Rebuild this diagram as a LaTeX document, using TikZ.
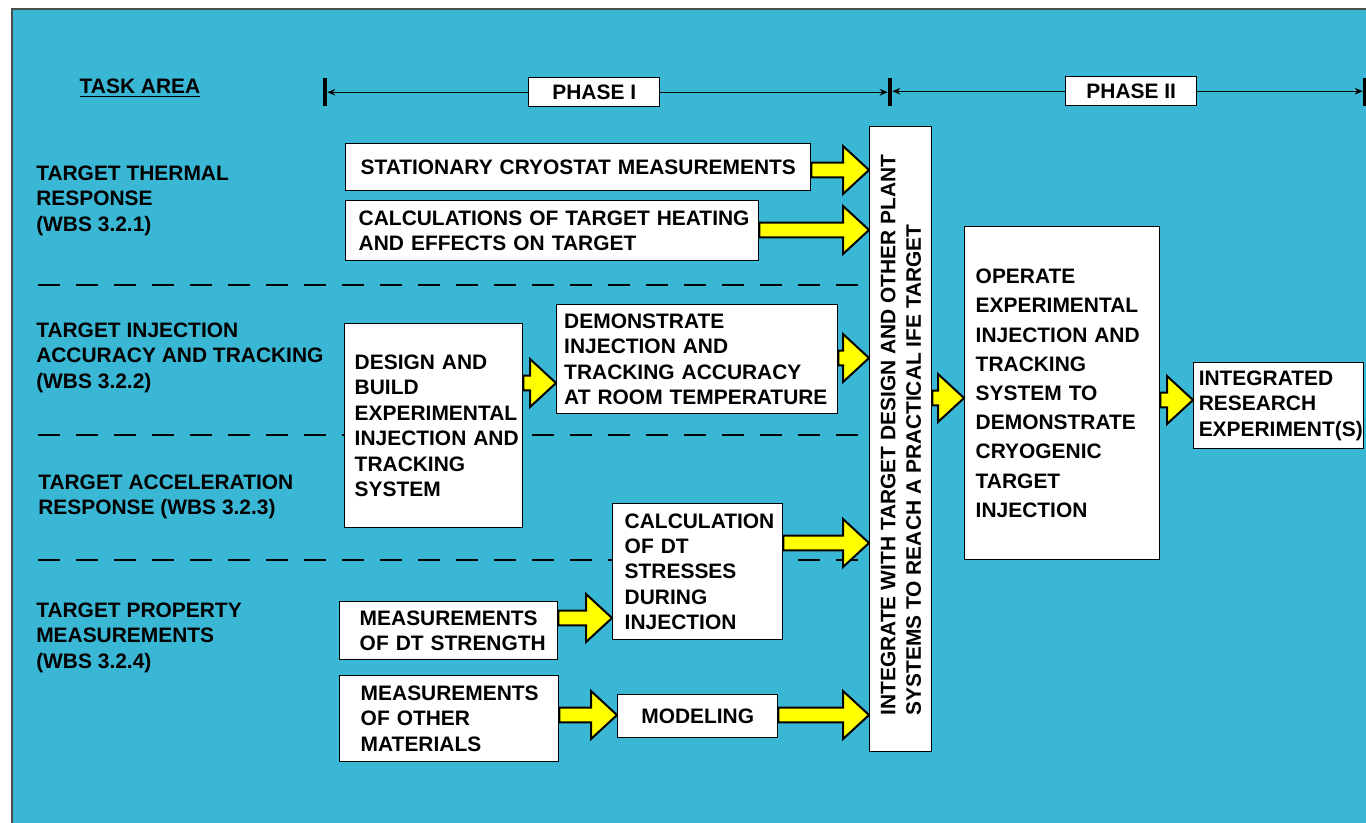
\documentclass[tikz,border=0pt]{standalone}
\usepackage{fontspec}
\setmainfont{Liberation Sans}
\usetikzlibrary{calc,arrows.meta}
\definecolor{bg}{RGB}{58,183,213}
\definecolor{yel}{RGB}{255,255,0}
\newcommand\yarr[3]{\draw[yarrow] let \p1=(#1), \p2=(#2), \p3=(0,#3) in
  (\x1,\y3+5.6pt) -- (\x2-19.5pt,\y3+5.6pt) -- (\x2-19.5pt,\y3+18pt) -- (\x2,\y3)
  -- (\x2-19.5pt,\y3-18pt) -- (\x2-19.5pt,\y3-5.6pt) -- (\x1,\y3-5.6pt) -- cycle;}
\newcommand\Lm[1]{\mbox{#1}}
\begin{document}
\begin{tikzpicture}[x=0.75pt,y=-0.75pt,
  font=\fontsize{15.7}{19.1}\selectfont\bfseries,
  box/.style={draw=black, line width=1.1pt, fill=white, anchor=north west, inner ysep=0pt},
  lbox/.style={box, align=left},
  cbox/.style={box, align=center},
  yarrow/.style={draw=black, fill=yel, line width=1.5pt, line join=miter},
  lab/.style={anchor=north west, inner sep=0pt, align=left},
  bar/.style={fill=black, minimum width=3pt, minimum height=21pt, inner sep=0pt},
  phl/.style={line width=1.1pt, -{Stealth[length=6pt,width=5pt]}},
  dline/.style={line width=1.1pt, dash pattern=on 16.5pt off 12pt}]
\useasboundingbox (0,0) rectangle (1366,822);
\fill[white] (0,0) rectangle (1366,822);
\draw[fill=bg, draw=black!70, line width=1.1pt] (12,9) rectangle (1390,850);

% header
\node[inner sep=0pt] (task) at (140,88) {\underline{TASK AREA}};
\node[bar] (b1) at (325,92) {};
\node[bar] (b2) at (890,92) {};
\node[bar] (b3) at (1365,92) {};
\node[cbox, minimum width=98.25pt, minimum height=21.75pt, inner xsep=0pt] (ph1) at (528,77) {PHASE I};
\node[cbox, minimum width=98.25pt, minimum height=21.75pt, inner xsep=0pt] (ph2) at (1065,76) {PHASE II};
\draw[phl] (ph1.west) -- (ph1.west -| b1.east);
\draw[phl] (ph1.east) -- (ph1.east -| b2.west);
\draw[phl] (ph2.west) -- (ph2.west -| b2.east);
\draw[phl] (ph2.east) -- (ph2.east -| b3.west);

% task area labels
\node[lab] (lab1) at (36,165.5) {TARGET THERMAL\\RESPONSE\\(WBS 3.2.1)};
\node[lab] (lab2) at (36,322.5) {TARGET INJECTION\\ACCURACY AND TRACKING\\(WBS 3.2.2)};
\node[lab] (lab3) at (38,474.5) {TARGET ACCELERATION\\RESPONSE (WBS 3.2.3)};
\node[lab] (lab4) at (36,602.5) {TARGET PROPERTY\\MEASUREMENTS\\(WBS 3.2.4)};

% dashed separators
\draw[dline] (38,285) -- (868,285);
\draw[dline] (38,435) -- (868,435);
\draw[dline] (38,560) -- (868,560);

% boxes
\node[cbox, minimum width=348.75pt, minimum height=35.25pt, inner xsep=3.75pt, text width=341.25pt] (sta) at (345,143) {\Lm{STATIONARY CRYOSTAT MEASUREMENTS}};
\node[lbox, minimum width=309.75pt, minimum height=45pt, inner xsep=9.75pt, text width=290.25pt] (calc) at (345,200) {\Lm{CALCULATIONS OF TARGET HEATING}\\\Lm{AND EFFECTS ON TARGET}};
\node[lbox, minimum width=133.5pt, minimum height=153pt, inner xsep=7.5pt, text width=118.5pt] (des) at (344,323) {\Lm{DESIGN AND}\\\Lm{BUILD}\\\Lm{EXPERIMENTAL}\\\Lm{INJECTION AND}\\\Lm{TRACKING}\\\Lm{SYSTEM}};
\node[lbox, minimum width=210.75pt, minimum height=81.75pt, inner xsep=5.625pt, text width=199.5pt] (dem) at (556,304) {\Lm{DEMONSTRATE}\\\Lm{INJECTION AND}\\\Lm{TRACKING ACCURACY}\\\Lm{AT ROOM TEMPERATURE}};
\node[lbox, minimum width=127.5pt, minimum height=102pt, inner xsep=9pt, text width=109.5pt] (cdt) at (612,503) {\Lm{CALCULATION}\\\Lm{OF DT}\\\Lm{STRESSES}\\\Lm{DURING}\\\Lm{INJECTION}};
\node[lbox, minimum width=163.5pt, minimum height=43.5pt, inner xsep=15pt, text width=133.5pt] (dts) at (339,601) {\Lm{MEASUREMENTS}\\\Lm{OF DT STRENGTH}};
\node[lbox, minimum width=164.25pt, minimum height=64.5pt, inner xsep=15.75pt, text width=132.75pt] (mom) at (339,675) {\Lm{MEASUREMENTS}\\\Lm{OF OTHER}\\\Lm{MATERIALS}};
\node[cbox, minimum width=120pt, minimum height=32.25pt, inner xsep=5pt, text width=110pt] (mod) at (617,694) {\Lm{MODELING}};
\node[box, minimum width=46.5pt, minimum height=468.75pt, inner sep=0pt] (int) at (869,126) {};
\node[rotate=90, align=left, inner sep=0pt] (intt) at (901,435) {INTEGRATE WITH TARGET DESIGN AND OTHER PLANT\\SYSTEMS TO REACH A PRACTICAL IFE TARGET};
\node[lbox, minimum width=146.25pt, minimum height=249.75pt, inner xsep=8.25pt, text width=129.75pt, font=\fontsize{15.7}{21.9}\selectfont\bfseries] (ope) at (964,226) {\Lm{OPERATE}\\\Lm{EXPERIMENTAL}\\\Lm{INJECTION AND}\\\Lm{TRACKING}\\\Lm{SYSTEM TO}\\\Lm{DEMONSTRATE}\\\Lm{CRYOGENIC}\\\Lm{TARGET}\\\Lm{INJECTION}};
\node[lbox, minimum width=127.5pt, minimum height=64.5pt, inner xsep=3.75pt, text width=120pt] (irx) at (1193,362) {\Lm{INTEGRATED}\\\Lm{RESEARCH}\\\Lm{EXPERIMENT(S)}};

% yellow block arrows
\yarr{sta.east}{int.west}{170}
\yarr{calc.east}{int.west}{230}
\yarr{des.east}{dem.west}{383}
\yarr{dem.east}{int.west}{358}
\yarr{cdt.east}{int.west}{543}
\yarr{dts.east}{cdt.west}{618}
\yarr{mom.east}{mod.west}{715}
\yarr{mod.east}{int.west}{715}
\yarr{int.east}{ope.west}{398}
\yarr{ope.east}{irx.west}{400}
\end{tikzpicture}
\end{document}
